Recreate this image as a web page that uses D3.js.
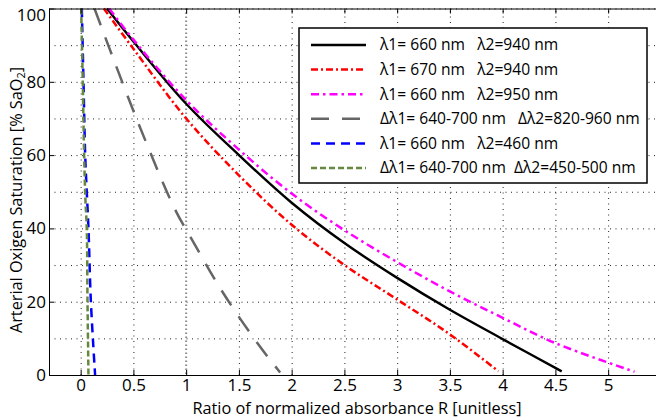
<!DOCTYPE html>
<meta charset="utf-8">
<script src="https://d3js.org/d3.v7.min.js"></script>
<style>
  body { margin: 0; background: #fff; }
  svg text { font-family: "Open Sans", sans-serif; fill: #000; }
  .grid line { stroke: #222; stroke-width: 1; stroke-dasharray: 1,4.5; }
  .grid path { display: none; }
  .tick-ax path { stroke: #000; stroke-width: 1; }
  .tick-ax line { stroke: #000; }
</style>
<div id="chart"></div>
<script>
// values: R ratio vs SaO2 (%)
var xTicks = [0, 0.5, 1, 1.5, 2, 2.5, 3, 3.5, 4, 4.5, 5];
var yTicks = [0, 20, 40, 60, 80, 100];
var yMinorGrid = [10, 30, 50, 70, 90];
var refLine = 1;

var labels = [
  "λ1= 660 nm   λ2=940 nm",
  "λ1= 670 nm   λ2=940 nm",
  "λ1= 660 nm   λ2=950 nm",
  "Δλ1= 640-700 nm   Δλ2=820-960 nm",
  "λ1= 660 nm   λ2=460 nm",
  "Δλ1= 640-700 nm  Δλ2=450-500 nm"
];

var r660_940 = [0.25, 0.5, 1, 1.5, 2, 2.5, 3, 3.5, 4, 4.56];
var s660_940 = [100, 91, 74, 60, 47, 36, 26.5, 17.8, 9.8, 1];

var r670_940 = [0.22, 0.5, 1, 1.5, 2, 2.5, 3, 3.5, 3.96];
var s670_940 = [100, 89, 70, 54.5, 41, 30, 20.6, 11.1, 1];

var r660_950 = [0.27, 0.5, 1, 1.5, 2, 2.5, 3, 3.5, 4, 4.5, 5.25];
var s660_950 = [100, 91.5, 75, 61.5, 49.5, 39.5, 30.8, 22.8, 15.6, 8.7, 0.9];

var rBand820 = [0.131, 0.533, 0.896, 1.038, 1.348, 1.701, 1.891];
var sBand820 = [100, 69.7, 45.1, 37.8, 22.5, 7.7, 0.7];

var r660_460 = [0.011, 0.027, 0.043, 0.058, 0.074, 0.097, 0.137];
var s660_460 = [100, 80, 60, 50, 40, 20, 0];

var rBand450 = [0.005, 0.02, 0.033, 0.045, 0.058, 0.065, 0.074];
var sBand450 = [100, 80, 60, 48, 40, 20, 0];

var series = [
  {r: r660_940, s: s660_940, color: "#000000", dash: null, w: 2.4},
  {r: r670_940, s: s670_940, color: "#ff0000", dash: "7,3,2,3", w: 2.5},
  {r: r660_950, s: s660_950, color: "#ff00ff", dash: "8,4,2.5,4", w: 2.5},
  {r: rBand820, s: sBand820, color: "#666666", dash: "18,13", w: 2.5},
  {r: r660_460, s: s660_460, color: "#0000ff", dash: "9,6", w: 2.5},
  {r: rBand450, s: sBand450, color: "#66873f", dash: "6,3", w: 2.5}
];

var W = 656, H = 420;
var margin = {top: 8.5, left: 49, bottom: 45};
var x = d3.scaleLinear().domain([-0.3, 5.5]).range([margin.left, margin.left + 5.8 * 105.5]);
var y = d3.scaleLinear().domain([0, 100]).range([H - margin.bottom, margin.top]);
var x0 = x.range()[0], x1 = x.range()[1], yB = y.range()[0], yT = y.range()[1];

var svg = d3.select("#chart").append("svg").attr("width", W).attr("height", H);

// dotted grid
svg.append("g").attr("class", "grid")
  .attr("transform", "translate(0," + yB + ")")
  .call(d3.axisBottom(x).tickValues(xTicks.filter(function(v){ return v !== refLine; }))
    .tickSize(-(yB - yT)).tickFormat(""));
svg.append("g").attr("class", "grid")
  .attr("transform", "translate(" + x0 + ",0)")
  .call(d3.axisLeft(y).tickValues(yTicks.concat(yMinorGrid)).tickSize(-(x1 - x0)).tickFormat(""));

// reference line at R = 1
svg.append("line")
  .attr("x1", x(refLine)).attr("x2", x(refLine))
  .attr("y1", yT).attr("y2", yB)
  .attr("stroke", "#8a8a8a").attr("stroke-width", 2).attr("stroke-dasharray", "1.5,2.5");

// curves
var line = d3.line()
  .x(function(d){ return x(d[0]); })
  .y(function(d){ return y(d[1]); })
  .curve(d3.curveCatmullRom.alpha(0.5));

var plot = svg.append("g");
series.forEach(function(sr) {
  plot.append("path")
    .datum(d3.zip(sr.r, sr.s))
    .attr("fill", "none")
    .attr("stroke", sr.color)
    .attr("stroke-width", sr.w)
    .attr("stroke-dasharray", sr.dash)
    .attr("d", line);
});

// axes (ticks inward, box)
var fmt = function(d){ return d3.format("")(d); };
svg.append("g").attr("class", "tick-ax")
  .attr("transform", "translate(0," + yB + ")")
  .call(d3.axisBottom(x).tickValues(xTicks).tickSizeInner(-5).tickSizeOuter(0).tickPadding(4).tickFormat(fmt))
  .call(function(g){ g.selectAll("text").style("font-size", "17px"); });
svg.append("g").attr("class", "tick-ax")
  .attr("transform", "translate(0," + yT + ")")
  .call(d3.axisTop(x).tickValues(xTicks).tickSizeInner(-5).tickSizeOuter(0).tickFormat(""));
svg.append("g").attr("class", "tick-ax")
  .attr("transform", "translate(" + x0 + ",0)")
  .call(d3.axisLeft(y).tickValues(yTicks).tickSizeInner(-5).tickSizeOuter(0).tickPadding(3))
  .call(function(g){
    g.selectAll("text").style("font-size", "17px");
    // top label sits a little lower, as in the original figure
    g.selectAll(".tick").filter(function(d){ return d === 100; }).select("text").attr("dy", "0.68em");
  });

svg.append("text")
  .attr("x", 357).attr("y", 414)
  .attr("text-anchor", "middle")
  .style("font-size", "16.3px")
  .text("Ratio of normalized absorbance R [unitless]");

svg.append("text")
  .attr("transform", "translate(22," + 200 + ") rotate(-90)")
  .attr("text-anchor", "middle")
  .style("font-size", "16.3px")
  .html("Arterial Oxigen Saturation [% SaO<tspan font-size='11px' dy='3'>2</tspan><tspan dy='-3'>]</tspan>");

// legend
var lg = svg.append("g").attr("transform", "translate(299,28)");
lg.append("rect").attr("width", 348).attr("height", 155)
  .attr("fill", "#fff").attr("stroke", "#000").attr("stroke-width", 1.5);
var rows = lg.selectAll("g.row").data(series).enter().append("g")
  .attr("class", "row")
  .attr("transform", function(d, i){ return "translate(0," + (17 + i * 24.6) + ")"; });
rows.append("line")
  .attr("x1", 12).attr("x2", 67)
  .attr("stroke", function(d){ return d.color; })
  .attr("stroke-width", function(d){ return d.w; })
  .attr("stroke-dasharray", function(d){ return d.dash; });
rows.append("text")
  .attr("x", 81).attr("dy", "0.35em")
  .style("font-size", "15.6px")
  .style("white-space", "pre")
  .text(function(d, i){ return labels[i]; });
</script>
